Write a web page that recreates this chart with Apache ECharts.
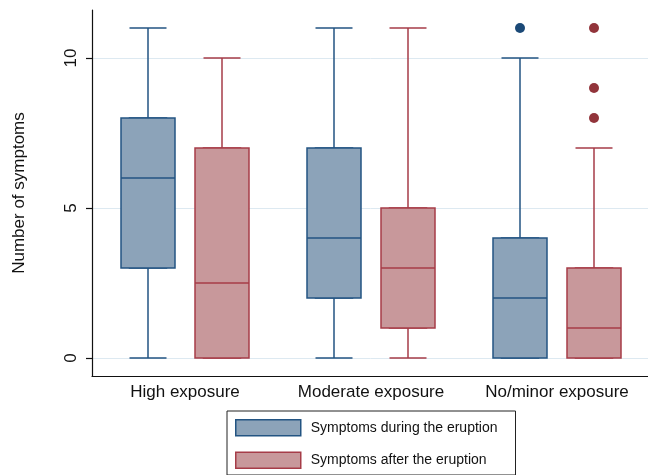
<!DOCTYPE html>
<html>
<head>
<meta charset="utf-8">
<script src="https://cdn.jsdelivr.net/npm/echarts@6/dist/echarts.min.js"></script>
<style>
html,body{margin:0;padding:0;background:#fff;}
#chart{width:648px;height:475px;}
</style>
</head>
<body>
<div id="chart"></div>
<script>
// ---- data ----
const categories = ['High exposure', 'Moderate exposure', 'No/minor exposure'];
const seriesNames = ['Symptoms during the eruption', 'Symptoms after the eruption'];
// [min (lower whisker), Q1, median, Q3, max (upper whisker)]
const duringStats = [[0, 3, 6, 8, 11], [0, 2, 4, 7, 11], [0, 0, 2, 4, 10]];
const afterStats  = [[0, 0, 2.5, 7, 10], [0, 1, 3, 5, 11], [0, 0, 1, 3, 7]];
// outliers: [category index, value]
const duringOutliers = [[2, 11]];
const afterOutliers  = [[2, 11], [2, 9], [2, 8]];
const yTickValues = [0, 5, 10];
const yName = 'Number of symptoms';

// ---- style ----
const FONT = 'Liberation Sans, Arial, Helvetica, sans-serif';
const BLUE_FILL = '#8ca3b9', BLUE_LINE = '#235482', BLUE_DOT = '#1b4977';
const RED_FILL = '#c8989b', RED_LINE = '#a63c48', RED_DOT = '#92343b';
const Y_MIN = -0.6, Y_MAX = 11.6;
const TOP = 10, HEIGHT = 366, BAND_W = 558;

const boxOnly = s => s.map(d => [d[1], d[1], d[2], d[3], d[3]]);

function hiddenX(grid) {
  return { type: 'category', gridIndex: grid, data: categories, show: false };
}
function hiddenY(grid) {
  return { type: 'value', gridIndex: grid, min: Y_MIN, max: Y_MAX, show: false };
}

const option = {
  animation: false,
  backgroundColor: '#fff',
  grid: [
    { left: 92, top: TOP, width: BAND_W, height: HEIGHT, outerBoundsMode: 'none', containLabel: false },
    { left: 55, top: TOP, width: BAND_W, height: HEIGHT, outerBoundsMode: 'none', containLabel: false },
    { left: 129, top: TOP, width: BAND_W, height: HEIGHT, outerBoundsMode: 'none', containLabel: false }
  ],
  xAxis: [
    {
      type: 'category', gridIndex: 0, data: categories,
      axisLine: { onZero: false, lineStyle: { color: '#111', width: 1.2 } },
      axisTick: { show: false },
      axisLabel: { interval: 0, fontSize: 17, color: '#111', fontFamily: FONT, margin: 8 },
      splitLine: { show: false }
    },
    hiddenX(1), hiddenX(1),
    hiddenX(2), hiddenX(2)
  ],
  yAxis: [
    {
      type: 'value', gridIndex: 0, min: Y_MIN, max: Y_MAX,
      name: yName, nameLocation: 'middle', nameGap: 64,
      nameTextStyle: { fontSize: 17, color: '#111', fontFamily: FONT },
      axisLine: { show: true, onZero: false, lineStyle: { color: '#111', width: 1.2 } },
      axisTick: { show: true, length: 6, customValues: yTickValues, lineStyle: { color: '#111', width: 1.2 } },
      axisLabel: { customValues: yTickValues, rotate: 90, fontSize: 17, color: '#111', fontFamily: FONT, margin: 12 },
      splitLine: { show: true, lineStyle: { color: '#dde9f1', width: 1 } }
    },
    hiddenY(1), hiddenY(2)
  ],
  legend: {
    orient: 'vertical', left: 227, top: 411,
    padding: [8, 18, 6, 8], itemGap: 15, itemWidth: 65, itemHeight: 16,
    borderColor: '#222', borderWidth: 1, borderRadius: 0,
    textStyle: { fontSize: 14, color: '#111', fontFamily: FONT, padding: [0, 0, 0, 5] },
    data: [
      { name: seriesNames[0], icon: 'rect', itemStyle: { color: BLUE_FILL, borderColor: BLUE_LINE, borderWidth: 1.5 } },
      { name: seriesNames[1], icon: 'rect', itemStyle: { color: RED_FILL, borderColor: RED_LINE, borderWidth: 1.5 } }
    ]
  },
  series: [
    // whiskers (narrow caps)
    { type: 'boxplot', name: 'during-whisker', xAxisIndex: 2, yAxisIndex: 1, z: 2, boxWidth: [37, 37],
      data: duringStats, silent: true,
      itemStyle: { color: BLUE_FILL, borderColor: BLUE_LINE, borderWidth: 1.5 } },
    // boxes
    { type: 'boxplot', name: seriesNames[0], xAxisIndex: 1, yAxisIndex: 1, z: 3, boxWidth: [54, 54],
      data: boxOnly(duringStats), silent: true,
      itemStyle: { color: BLUE_FILL, borderColor: BLUE_LINE, borderWidth: 1.5 } },
    { type: 'scatter', name: 'during-out', xAxisIndex: 1, yAxisIndex: 1, z: 4, symbolSize: 10,
      data: duringOutliers, itemStyle: { color: BLUE_DOT, opacity: 1 }, silent: true },

    { type: 'boxplot', name: 'after-whisker', xAxisIndex: 4, yAxisIndex: 2, z: 2, boxWidth: [37, 37],
      data: afterStats, silent: true,
      itemStyle: { color: RED_FILL, borderColor: RED_LINE, borderWidth: 1.5 } },
    { type: 'boxplot', name: seriesNames[1], xAxisIndex: 3, yAxisIndex: 2, z: 3, boxWidth: [54, 54],
      data: boxOnly(afterStats), silent: true,
      itemStyle: { color: RED_FILL, borderColor: RED_LINE, borderWidth: 1.5 } },
    { type: 'scatter', name: 'after-out', xAxisIndex: 3, yAxisIndex: 2, z: 4, symbolSize: 10,
      data: afterOutliers, itemStyle: { color: RED_DOT, opacity: 1 }, silent: true }
  ]
};

const chart = echarts.init(document.getElementById('chart'), null, { renderer: 'canvas' });
chart.setOption(option);
</script>
</body>
</html>
